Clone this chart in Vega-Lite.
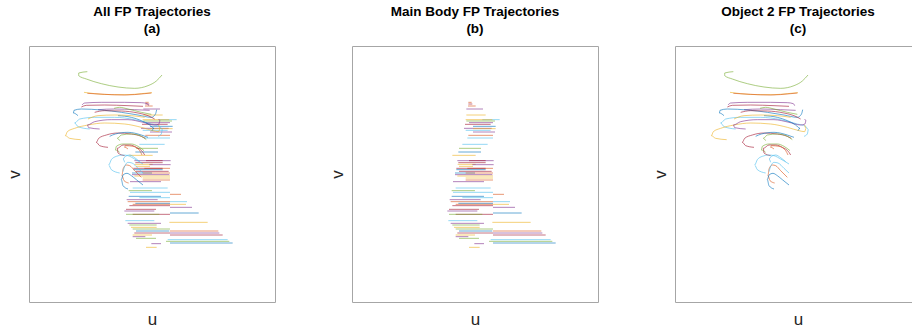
{
  "$schema": "https://vega.github.io/schema/vega-lite/v6.json",
  "background": "white",
  "padding": {"left": 4, "top": 4, "right": 0, "bottom": 0},
  "bounds": "flush",
  "spacing": 77,
  "config": {
    "view": {"stroke": "#a6a6a6", "strokeWidth": 1},
    "font": "Liberation Sans",
    "title": {"fontSize": 13.5, "fontWeight": "bold", "color": "#000000", "font": "Liberation Sans", "offset": 11, "lineHeight": 17, "anchor": "middle"},
    "axis": {"labels": false, "ticks": false, "domain": false, "grid": false, "titleFontSize": 17, "titleFontWeight": "normal", "titleColor": "#262626", "titleFont": "Liberation Sans"},
    "axisX": {"titlePadding": 9},
    "axisY": {"titlePadding": 6}
  },
  "datasets": {
    "seg": [
      {"c":"o","u":352,"u2":362,"v":160},
      {"c":"r","u":352,"u2":364,"v":165},
      {"c":"o","u":351,"u2":374,"v":171},
      {"c":"p","u":346,"u2":396,"v":180},
      {"c":"y","u":346,"u2":404,"v":198},
      {"c":"c","u":394,"u2":446,"v":212},
      {"c":"y","u":344,"u2":424,"v":212},
      {"c":"g","u":346,"u2":432,"v":216},
      {"c":"p","u":354,"u2":426,"v":221},
      {"c":"r","u":342,"u2":419,"v":226},
      {"c":"b","u":366,"u2":434,"v":232},
      {"c":"p","u":339,"u2":422,"v":238},
      {"c":"y","u":366,"u2":434,"v":239},
      {"c":"c","u":344,"u2":419,"v":244},
      {"c":"p","u":366,"u2":432,"v":249},
      {"c":"o","u":352,"u2":426,"v":259},
      {"c":"c","u":349,"u2":426,"v":267},
      {"c":"c","u":334,"u2":410,"v":286},
      {"c":"g","u":324,"u2":390,"v":298},
      {"c":"b","u":322,"u2":390,"v":309},
      {"c":"y","u":304,"u2":374,"v":319},
      {"c":"p","u":319,"u2":428,"v":335},
      {"c":"r","u":354,"u2":404,"v":335},
      {"c":"r","u":322,"u2":404,"v":341},
      {"c":"y","u":320,"u2":374,"v":346},
      {"c":"p","u":364,"u2":428,"v":347},
      {"c":"y","u":324,"u2":366,"v":352},
      {"c":"o","u":349,"u2":426,"v":358},
      {"c":"r","u":316,"u2":404,"v":358},
      {"c":"b","u":316,"u2":404,"v":362},
      {"c":"r","u":324,"u2":422,"v":367},
      {"c":"b","u":312,"u2":372,"v":372},
      {"c":"o","u":344,"u2":426,"v":372},
      {"c":"p","u":312,"u2":424,"v":377},
      {"c":"y","u":319,"u2":426,"v":381},
      {"c":"y","u":344,"u2":426,"v":387},
      {"c":"o","u":344,"u2":426,"v":393},
      {"c":"p","u":306,"u2":399,"v":398},
      {"c":"c","u":314,"u2":419,"v":417},
      {"c":"g","u":302,"u2":372,"v":425},
      {"c":"c","u":306,"u2":426,"v":430},
      {"c":"o","u":426,"u2":459,"v":436},
      {"c":"b","u":302,"u2":399,"v":442},
      {"c":"c","u":334,"u2":426,"v":446},
      {"c":"p","u":296,"u2":389,"v":452},
      {"c":"o","u":299,"u2":426,"v":458},
      {"c":"c","u":426,"u2":477,"v":458},
      {"c":"b","u":322,"u2":426,"v":463},
      {"c":"o","u":314,"u2":426,"v":466},
      {"c":"y","u":426,"u2":474,"v":466},
      {"c":"r","u":304,"u2":426,"v":470},
      {"c":"p","u":426,"u2":492,"v":475},
      {"c":"r","u":294,"u2":384,"v":481},
      {"c":"p","u":289,"u2":379,"v":486},
      {"c":"b","u":426,"u2":512,"v":492},
      {"c":"r","u":314,"u2":426,"v":496},
      {"c":"g","u":294,"u2":394,"v":496},
      {"c":"c","u":292,"u2":379,"v":515},
      {"c":"y","u":424,"u2":539,"v":520},
      {"c":"p","u":299,"u2":399,"v":523},
      {"c":"g","u":304,"u2":386,"v":528},
      {"c":"y","u":309,"u2":386,"v":535},
      {"c":"g","u":314,"u2":426,"v":540},
      {"c":"b","u":324,"u2":424,"v":546},
      {"c":"o","u":426,"u2":571,"v":546},
      {"c":"r","u":319,"u2":426,"v":552},
      {"c":"p","u":426,"u2":574,"v":552},
      {"c":"y","u":314,"u2":372,"v":558},
      {"c":"r","u":426,"u2":584,"v":558},
      {"c":"p","u":314,"u2":352,"v":563},
      {"c":"g","u":324,"u2":384,"v":568},
      {"c":"c","u":419,"u2":599,"v":572},
      {"c":"g","u":414,"u2":604,"v":577},
      {"c":"b","u":426,"u2":614,"v":582},
      {"c":"p","u":370,"u2":399,"v":584},
      {"c":"y","u":354,"u2":386,"v":595}
    ],
    "cur": [
      {"id":"k1","c":"g","i":0,"u":178,"v":68},{"id":"k1","c":"g","i":1,"u":152,"v":72},{"id":"k1","c":"g","i":2,"u":152,"v":80},{"id":"k1","c":"g","i":3,"u":175,"v":90},{"id":"k1","c":"g","i":4,"u":220,"v":104},{"id":"k1","c":"g","i":5,"u":270,"v":114},{"id":"k1","c":"g","i":6,"u":320,"v":118},{"id":"k1","c":"g","i":7,"u":360,"v":110},{"id":"k1","c":"g","i":8,"u":385,"v":96},{"id":"k1","c":"g","i":9,"u":402,"v":78},
      {"id":"k2","c":"y","i":0,"u":168,"v":130},{"id":"k2","c":"y","i":1,"u":200,"v":134},{"id":"k2","c":"y","i":2,"u":250,"v":137},{"id":"k2","c":"y","i":3,"u":300,"v":137},{"id":"k2","c":"y","i":4,"u":340,"v":134},{"id":"k2","c":"y","i":5,"u":372,"v":131},
      {"id":"k3","c":"o","i":0,"u":178,"v":133},{"id":"k3","c":"o","i":1,"u":230,"v":136},{"id":"k3","c":"o","i":2,"u":290,"v":138},{"id":"k3","c":"o","i":3,"u":350,"v":134},{"id":"k3","c":"o","i":4,"u":370,"v":132},
      {"id":"k4","c":"p","i":0,"u":162,"v":168},{"id":"k4","c":"p","i":1,"u":170,"v":162},{"id":"k4","c":"p","i":2,"u":220,"v":160},{"id":"k4","c":"p","i":3,"u":290,"v":160},{"id":"k4","c":"p","i":4,"u":340,"v":161},{"id":"k4","c":"p","i":5,"u":358,"v":164},{"id":"k4","c":"p","i":6,"u":362,"v":170},
      {"id":"k5","c":"r","i":0,"u":160,"v":174},{"id":"k5","c":"r","i":1,"u":175,"v":169},{"id":"k5","c":"r","i":2,"u":230,"v":168},{"id":"k5","c":"r","i":3,"u":300,"v":170},{"id":"k5","c":"r","i":4,"u":345,"v":172},
      {"id":"k6","c":"p","i":0,"u":210,"v":182},{"id":"k6","c":"p","i":1,"u":260,"v":180},{"id":"k6","c":"p","i":2,"u":320,"v":182},{"id":"k6","c":"p","i":3,"u":365,"v":184},
      {"id":"k7","c":"b","i":0,"u":150,"v":200},{"id":"k7","c":"b","i":1,"u":136,"v":192},{"id":"k7","c":"b","i":2,"u":138,"v":184},{"id":"k7","c":"b","i":3,"u":160,"v":180},{"id":"k7","c":"b","i":4,"u":220,"v":183},{"id":"k7","c":"b","i":5,"u":280,"v":190},{"id":"k7","c":"b","i":6,"u":330,"v":198},{"id":"k7","c":"b","i":7,"u":370,"v":205},{"id":"k7","c":"b","i":8,"u":382,"v":196},{"id":"k7","c":"b","i":9,"u":386,"v":182},
      {"id":"k8","c":"g","i":0,"u":258,"v":178},{"id":"k8","c":"g","i":1,"u":275,"v":175},{"id":"k8","c":"g","i":2,"u":300,"v":180},{"id":"k8","c":"g","i":3,"u":340,"v":190},{"id":"k8","c":"g","i":4,"u":370,"v":196},
      {"id":"k9","c":"c","i":0,"u":185,"v":240},{"id":"k9","c":"c","i":1,"u":150,"v":233},{"id":"k9","c":"c","i":2,"u":140,"v":222},{"id":"k9","c":"c","i":3,"u":155,"v":210},{"id":"k9","c":"c","i":4,"u":200,"v":205},{"id":"k9","c":"c","i":5,"u":260,"v":205},{"id":"k9","c":"c","i":6,"u":320,"v":212},{"id":"k9","c":"c","i":7,"u":370,"v":225},{"id":"k9","c":"c","i":8,"u":395,"v":232},{"id":"k9","c":"c","i":9,"u":403,"v":242},{"id":"k9","c":"c","i":10,"u":400,"v":255},{"id":"k9","c":"c","i":11,"u":390,"v":262},
      {"id":"k10","c":"y","i":0,"u":158,"v":272},{"id":"k10","c":"y","i":1,"u":125,"v":268},{"id":"k10","c":"y","i":2,"u":112,"v":260},{"id":"k10","c":"y","i":3,"u":118,"v":248},{"id":"k10","c":"y","i":4,"u":140,"v":238},{"id":"k10","c":"y","i":5,"u":180,"v":228},{"id":"k10","c":"y","i":6,"u":230,"v":222},{"id":"k10","c":"y","i":7,"u":290,"v":225},{"id":"k10","c":"y","i":8,"u":340,"v":235},{"id":"k10","c":"y","i":9,"u":375,"v":245},{"id":"k10","c":"y","i":10,"u":392,"v":248},{"id":"k10","c":"y","i":11,"u":396,"v":238},{"id":"k10","c":"y","i":12,"u":392,"v":228},
      {"id":"k11","c":"p","i":0,"u":215,"v":240},{"id":"k11","c":"p","i":1,"u":182,"v":236},{"id":"k11","c":"p","i":2,"u":178,"v":228},{"id":"k11","c":"p","i":3,"u":200,"v":218},{"id":"k11","c":"p","i":4,"u":250,"v":212},{"id":"k11","c":"p","i":5,"u":300,"v":212},{"id":"k11","c":"p","i":6,"u":345,"v":220},{"id":"k11","c":"p","i":7,"u":380,"v":228},{"id":"k11","c":"p","i":8,"u":393,"v":225},{"id":"k11","c":"p","i":9,"u":396,"v":215},{"id":"k11","c":"p","i":10,"u":392,"v":210},
      {"id":"k12","c":"r","i":0,"u":240,"v":295},{"id":"k12","c":"r","i":1,"u":215,"v":290},{"id":"k12","c":"r","i":2,"u":205,"v":280},{"id":"k12","c":"r","i":3,"u":212,"v":268},{"id":"k12","c":"r","i":4,"u":235,"v":258},{"id":"k12","c":"r","i":5,"u":270,"v":252},{"id":"k12","c":"r","i":6,"u":310,"v":255},{"id":"k12","c":"r","i":7,"u":340,"v":262},{"id":"k12","c":"r","i":8,"u":352,"v":268},
      {"id":"k13","c":"b","i":0,"u":270,"v":200},{"id":"k13","c":"b","i":1,"u":310,"v":205},{"id":"k13","c":"b","i":2,"u":340,"v":215},{"id":"k13","c":"b","i":3,"u":365,"v":228},{"id":"k13","c":"b","i":4,"u":378,"v":238},{"id":"k13","c":"b","i":5,"u":372,"v":245},
      {"id":"k14","c":"b","i":0,"u":245,"v":262},{"id":"k14","c":"b","i":1,"u":262,"v":255},{"id":"k14","c":"b","i":2,"u":300,"v":250},{"id":"k14","c":"b","i":3,"u":340,"v":258},{"id":"k14","c":"b","i":4,"u":360,"v":265},
      {"id":"k15","c":"g","i":0,"u":275,"v":275},{"id":"k15","c":"g","i":1,"u":268,"v":268},{"id":"k15","c":"g","i":2,"u":280,"v":258},{"id":"k15","c":"g","i":3,"u":310,"v":255},{"id":"k15","c":"g","i":4,"u":340,"v":262},{"id":"k15","c":"g","i":5,"u":355,"v":272},
      {"id":"k16","c":"g","i":0,"u":275,"v":310},{"id":"k16","c":"g","i":1,"u":262,"v":303},{"id":"k16","c":"g","i":2,"u":265,"v":292},{"id":"k16","c":"g","i":3,"u":285,"v":285},{"id":"k16","c":"g","i":4,"u":310,"v":285},{"id":"k16","c":"g","i":5,"u":330,"v":292},{"id":"k16","c":"g","i":6,"u":348,"v":305},
      {"id":"k17","c":"r","i":0,"u":290,"v":320},{"id":"k17","c":"r","i":1,"u":270,"v":312},{"id":"k17","c":"r","i":2,"u":268,"v":298},{"id":"k17","c":"r","i":3,"u":285,"v":288},{"id":"k17","c":"r","i":4,"u":305,"v":288},{"id":"k17","c":"r","i":5,"u":325,"v":295},{"id":"k17","c":"r","i":6,"u":345,"v":310},{"id":"k17","c":"r","i":7,"u":350,"v":318},
      {"id":"k18","c":"o","i":0,"u":300,"v":300},{"id":"k18","c":"o","i":1,"u":290,"v":295},{"id":"k18","c":"o","i":2,"u":292,"v":290},{"id":"k18","c":"o","i":3,"u":315,"v":292},{"id":"k18","c":"o","i":4,"u":335,"v":305},{"id":"k18","c":"o","i":5,"u":342,"v":318},
      {"id":"k19","c":"c","i":0,"u":275,"v":372},{"id":"k19","c":"c","i":1,"u":250,"v":362},{"id":"k19","c":"c","i":2,"u":242,"v":348},{"id":"k19","c":"c","i":3,"u":250,"v":332},{"id":"k19","c":"c","i":4,"u":265,"v":322},{"id":"k19","c":"c","i":5,"u":285,"v":318},{"id":"k19","c":"c","i":6,"u":300,"v":320},{"id":"k19","c":"c","i":7,"u":320,"v":330},{"id":"k19","c":"c","i":8,"u":345,"v":345},
      {"id":"k20","c":"c","i":0,"u":290,"v":340},{"id":"k20","c":"c","i":1,"u":285,"v":330},{"id":"k20","c":"c","i":2,"u":292,"v":322},{"id":"k20","c":"c","i":3,"u":305,"v":318},{"id":"k20","c":"c","i":4,"u":320,"v":326},{"id":"k20","c":"c","i":5,"u":335,"v":338},
      {"id":"k21","c":"o","i":0,"u":302,"v":402},{"id":"k21","c":"o","i":1,"u":288,"v":395},{"id":"k21","c":"o","i":2,"u":282,"v":380},{"id":"k21","c":"o","i":3,"u":285,"v":360},{"id":"k21","c":"o","i":4,"u":295,"v":348},{"id":"k21","c":"o","i":5,"u":305,"v":350},{"id":"k21","c":"o","i":6,"u":320,"v":365},{"id":"k21","c":"o","i":7,"u":340,"v":385},
      {"id":"k22","c":"b","i":0,"u":300,"v":420},{"id":"k22","c":"b","i":1,"u":285,"v":410},{"id":"k22","c":"b","i":2,"u":280,"v":392},{"id":"k22","c":"b","i":3,"u":285,"v":378},{"id":"k22","c":"b","i":4,"u":297,"v":373},{"id":"k22","c":"b","i":5,"u":310,"v":380},{"id":"k22","c":"b","i":6,"u":325,"v":392},{"id":"k22","c":"b","i":7,"u":345,"v":408},
      {"id":"k23","c":"c","i":0,"u":285,"v":368},{"id":"k23","c":"c","i":1,"u":290,"v":352},{"id":"k23","c":"c","i":2,"u":300,"v":340},{"id":"k23","c":"c","i":3,"u":312,"v":342},{"id":"k23","c":"c","i":4,"u":330,"v":358},{"id":"k23","c":"c","i":5,"u":345,"v":372},
      {"id":"k24","c":"y","i":0,"u":180,"v":210},{"id":"k24","c":"y","i":1,"u":210,"v":200},{"id":"k24","c":"y","i":2,"u":260,"v":198},{"id":"k24","c":"y","i":3,"u":310,"v":200},{"id":"k24","c":"y","i":4,"u":350,"v":205},
      {"id":"k25","c":"r","i":0,"u":200,"v":190},{"id":"k25","c":"r","i":1,"u":230,"v":185},{"id":"k25","c":"r","i":2,"u":280,"v":186},{"id":"k25","c":"r","i":3,"u":330,"v":192},{"id":"k25","c":"r","i":4,"u":360,"v":200},{"id":"k25","c":"r","i":5,"u":380,"v":210}
    ]
  },
  "hconcat": [
    {
      "width": 246, "height": 256,
      "title": {"text": ["All FP Trajectories", "(a)"]},
      "layer": [
        {
          "data": {"name": "seg"},
          "mark": {"type": "rule", "strokeWidth": 1, "opacity": 0.6},
          "encoding": {
            "x": {"field": "u", "type": "quantitative", "scale": {"domain": [3, 741]}, "axis": {"title": "u"}},
            "x2": {"field": "u2"},
            "y": {"field": "v", "type": "quantitative", "scale": {"domain": [-9, 759], "reverse": true}, "axis": {"title": "v"}},
            "color": {"field": "c", "type": "nominal", "legend": null, "scale": {"domain": ["b","o","y","p","g","c","r"], "range": ["#0072BD","#D95319","#EDB120","#7E2F8E","#77AC30","#4DBEEE","#A2142F"]}}
          }
        },
        {
          "data": {"name": "cur"},
          "mark": {"type": "line", "strokeWidth": 1, "opacity": 0.6, "interpolate": "monotone"},
          "encoding": {
            "x": {"field": "u", "type": "quantitative", "scale": {"domain": [3, 741]}, "axis": {"title": "u"}},
            "y": {"field": "v", "type": "quantitative", "scale": {"domain": [-9, 759], "reverse": true}, "axis": {"title": "v"}},
            "detail": {"field": "id"},
            "order": {"field": "i", "type": "quantitative"},
            "color": {"field": "c", "type": "nominal", "legend": null, "scale": {"domain": ["b","o","y","p","g","c","r"], "range": ["#0072BD","#D95319","#EDB120","#7E2F8E","#77AC30","#4DBEEE","#A2142F"]}}
          }
        }
      ]
    },
    {
      "width": 246, "height": 256,
      "title": {"text": ["Main Body FP Trajectories", "(b)"]},
      "data": {"name": "seg"},
      "mark": {"type": "rule", "strokeWidth": 1, "opacity": 0.6},
      "encoding": {
        "x": {"field": "u", "type": "quantitative", "scale": {"domain": [3, 741]}, "axis": {"title": "u"}},
        "x2": {"field": "u2"},
        "y": {"field": "v", "type": "quantitative", "scale": {"domain": [-9, 759], "reverse": true}, "axis": {"title": "v"}},
        "color": {"field": "c", "type": "nominal", "legend": null, "scale": {"domain": ["b","o","y","p","g","c","r"], "range": ["#0072BD","#D95319","#EDB120","#7E2F8E","#77AC30","#4DBEEE","#A2142F"]}}
      }
    },
    {
      "width": 246, "height": 256,
      "title": {"text": ["Object 2 FP Trajectories", "(c)"]},
      "data": {"name": "cur"},
      "mark": {"type": "line", "strokeWidth": 1, "opacity": 0.6, "interpolate": "monotone"},
      "encoding": {
        "x": {"field": "u", "type": "quantitative", "scale": {"domain": [3, 741]}, "axis": {"title": "u"}},
        "y": {"field": "v", "type": "quantitative", "scale": {"domain": [-9, 759], "reverse": true}, "axis": {"title": "v"}},
        "detail": {"field": "id"},
        "order": {"field": "i", "type": "quantitative"},
        "color": {"field": "c", "type": "nominal", "legend": null, "scale": {"domain": ["b","o","y","p","g","c","r"], "range": ["#0072BD","#D95319","#EDB120","#7E2F8E","#77AC30","#4DBEEE","#A2142F"]}}
      }
    }
  ]
}
